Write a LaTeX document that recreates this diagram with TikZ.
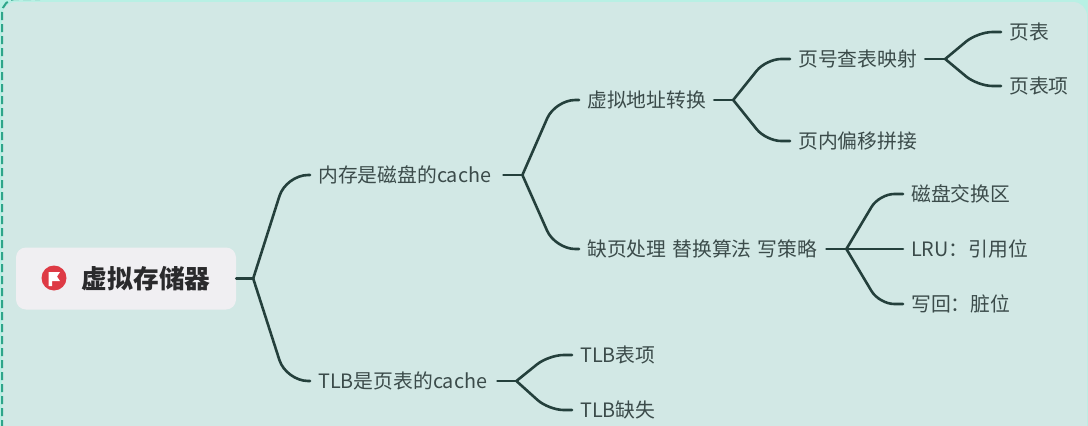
\documentclass[tikz,border=0pt]{standalone}
\usepackage{fontspec}
\setmainfont{Noto Sans CJK SC}
\usetikzlibrary{calc}
\definecolor{panelbg}{HTML}{D2E8E5}
\definecolor{edgebg}{HTML}{B8F0E4}
\definecolor{dashgreen}{HTML}{2FA58A}
\definecolor{linkcol}{HTML}{24403C}
\definecolor{labelcol}{HTML}{3B4B4A}
\definecolor{rootbg}{HTML}{F0EFF2}
\definecolor{rootink}{HTML}{2A2A2C}
\definecolor{flagred}{HTML}{DE3A45}
\tikzset{
  x=1pt,y=-1pt,
  item/.style={anchor=west,inner xsep=8pt,inner ysep=0pt,text height=16.9pt,text depth=2.3pt,
    text=labelcol,font=\fontsize{19.8pt}{22pt}\selectfont},
  link/.style={draw=linkcol,line width=2.6pt,line cap=round},
  branch/.style={link,rounded corners=#1,
    to path={let \p1=(\tikztostart),\p2=(\tikztotarget) in
      -- ({\x1+0.58*(\x2-\x1)},\y2) -- (\tikztotarget)}},
  branch/.default=15pt,
  rootbox/.style={rounded corners=10pt,fill=rootbg,minimum width=220pt,minimum height=62pt,
    inner xsep=0pt,text width=220pt,text=rootink,align=left,
    font=\fontsize{25.7pt}{28pt}\selectfont\bfseries},
}
\begin{document}
\begin{tikzpicture}
\useasboundingbox (0,0) rectangle (1088,426);
\fill[edgebg] (0,0) rectangle (1088,426);
\fill[panelbg,rounded corners=14pt] (2,2) -- (1087,2) -- (1087,440) -- (2,440) -- cycle;
\draw[dashgreen,line width=2pt,dash pattern=on 8pt off 4pt,rounded corners=14pt] (2,440) -- (2,-1) -- (40,-1);

\node[rootbox] (root) at (126,278.5) {\hspace*{66pt}虚拟存储器};
\fill[flagred] (54,278) circle (12.5);
\fill[white] (48.5,272) -- (60,272) -- (57,276.5) -- (60,281) -- (52,281) -- (52,286) -- (48.5,286) -- cycle;

\node[item,text width=177pt] (mem) at (310,175) {内存是磁盘的cache};
\node[item,text width=171pt] (tlb) at (310,381) {TLB是页表的cache};
\node[item] (va) at (579,100) {虚拟地址转换};
\node[item,text width=231pt] (fault) at (579,249) {\spaceskip=6pt 缺页处理 替换算法 写策略};
\node[item] (map) at (790,59) {页号查表映射};
\node[item] (offset) at (790,141) {页内偏移拼接};
\node[item] (pt) at (1001,32) {页表};
\node[item] (pte) at (1001,86) {页表项};
\node[item] (swap) at (903,194) {磁盘交换区};
\node[item] (lru) at (903,249) {LRU：引用位};
\node[item] (wb) at (903,304) {写回：脏位};
\node[item] (tlbe) at (572,355) {TLB表项};
\node[item] (tlbm) at (572,410) {TLB缺失};

\coordinate (jroot) at ($(root.east)+(17,0)$);
\coordinate (jmem) at ($(mem.east)+(19,0)$);
\coordinate (jtlb) at ($(tlb.east)+(19,0)$);
\coordinate (jva) at ($(va.east)+(19,0)$);
\coordinate (jfault) at ($(fault.east)+(20,0)$);
\coordinate (jmap) at ($(map.east)+(20,0)$);

\draw[link] (root.east) -- (jroot);
\draw[branch=22pt] (jroot) to (mem.west);
\draw[branch=22pt] (jroot) to (tlb.west);
\draw[link] (mem.east) -- (jmem);
\draw[branch=20pt] (jmem) to (va.west);
\draw[branch=20pt] (jmem) to (fault.west);
\draw[link] (tlb.east) -- (jtlb);
\draw[branch] (jtlb) to (tlbe.west);
\draw[branch] (jtlb) to (tlbm.west);
\draw[link] (va.east) -- (jva);
\draw[branch] (jva) to (map.west);
\draw[branch] (jva) to (offset.west);
\draw[link] (map.east) -- (jmap);
\draw[branch] (jmap) to (pt.west);
\draw[branch] (jmap) to (pte.west);
\draw[link] (fault.east) -- (jfault);
\draw[branch] (jfault) to (swap.west);
\draw[link] (jfault) -- (lru.west);
\draw[branch] (jfault) to (wb.west);
\end{tikzpicture}
\end{document}
